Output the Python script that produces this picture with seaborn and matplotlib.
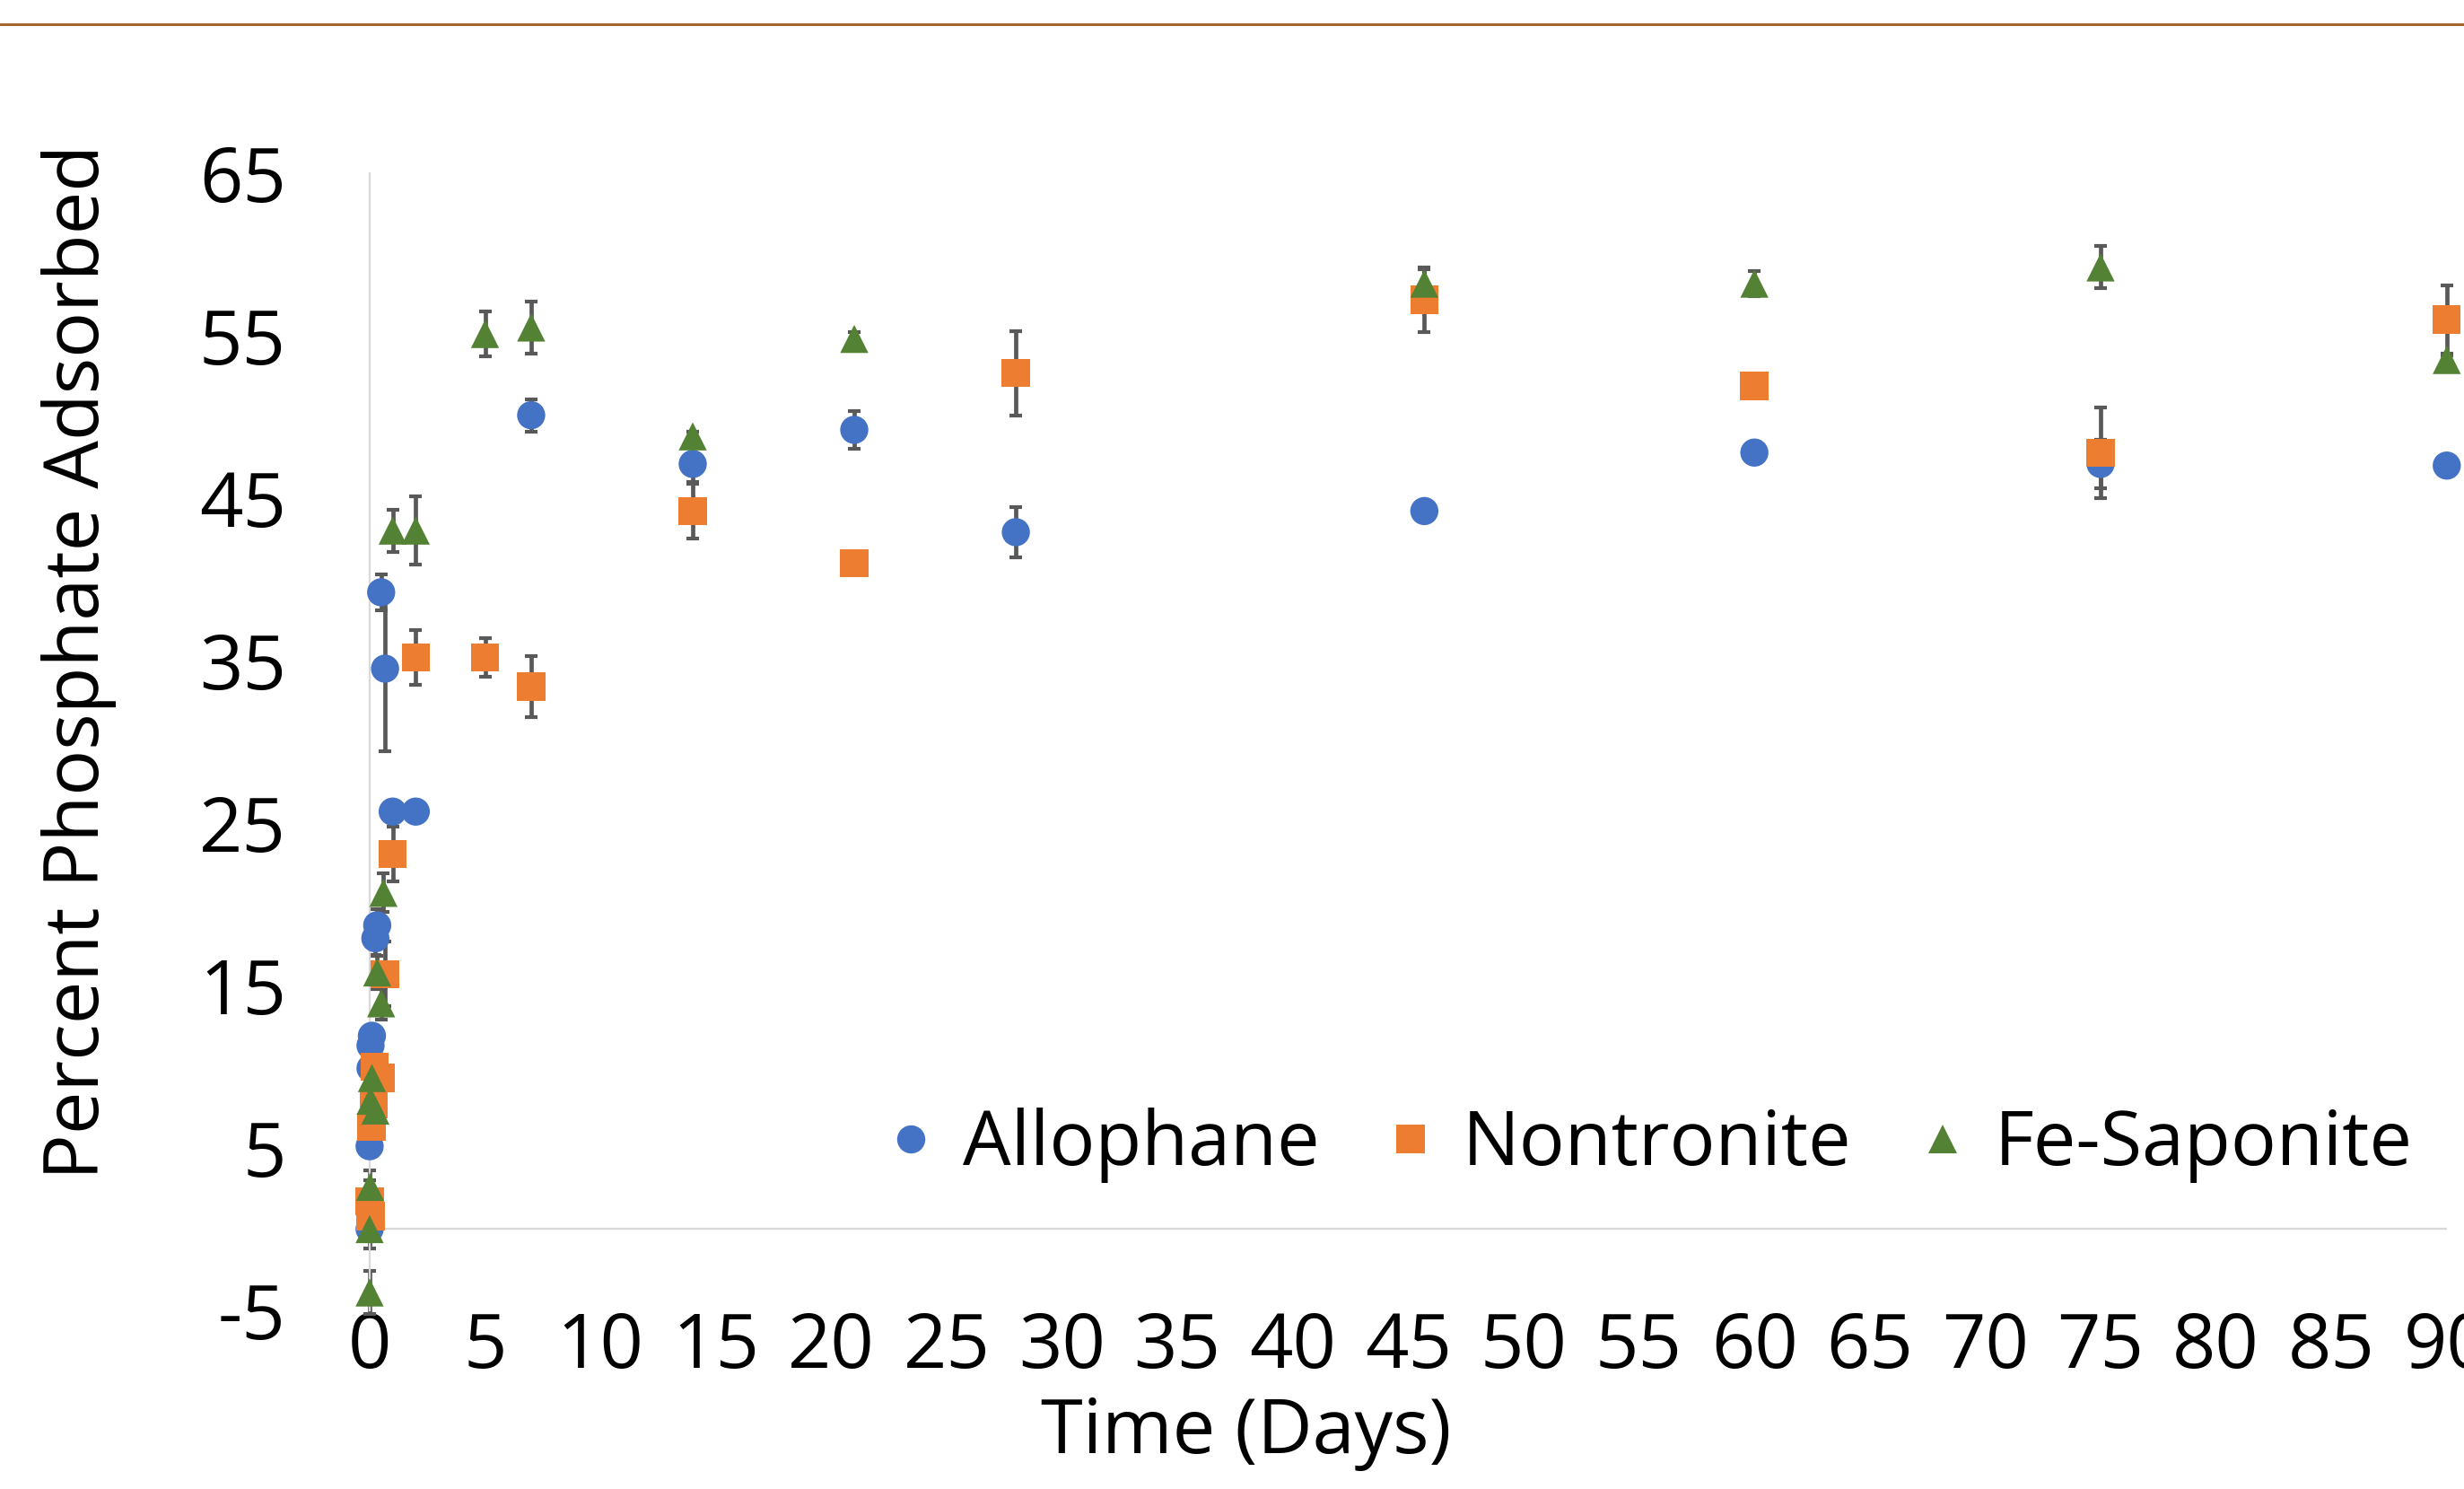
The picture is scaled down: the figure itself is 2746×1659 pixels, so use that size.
import numpy as np
import pandas as pd
import matplotlib
matplotlib.use("Agg")
import matplotlib.pyplot as plt
from matplotlib.lines import Line2D
import seaborn as sns

# values (days, % adsorbed, error)
allo_days = [0, 0, 0.08, 0.04, 0.04, 0.1, 0.25, 0.33, 0.5, 0.67, 1, 2, 7, 14, 21, 28, 45.7, 60, 75, 90]
allo_pct = [0.0, 5.1, 6.8, 9.9, 11.3, 11.9, 17.9, 18.7, 39.2, 34.5, 25.7, 25.7, 50.1, 47.1, 49.2, 42.9, 44.2, 47.8, 47.1, 47.0]
allo_err = [0, 0.5, 0.5, 0.8, 0.8, 0.6, 1.0, 1.0, 1.1, 5.1, 0, 0.4, 1.0, 1.1, 1.15, 1.55, 0, 0, 1.5, 0]

nont_days = [0, 0.04, 0.08, 0.17, 0.22, 0.5, 0.67, 1, 2, 5, 7, 14, 21, 28, 45.7, 60, 75, 90]
nont_pct = [1.7, 0.8, 6.3, 7.7, 10.0, 9.3, 15.7, 23.1, 35.2, 35.2, 33.4, 44.2, 41.0, 52.7, 57.2, 51.9, 47.8, 56.0]
nont_err = [1.3, 1.3, 0.6, 0.6, 0.5, 0.5, 2.0, 1.7, 1.7, 1.2, 1.9, 1.7, 0.3, 2.6, 2.0, 0.3, 2.8, 2.1]

fesap_days = [0, 0, 0.02, 0.04, 0.1, 0.25, 0.33, 0.5, 0.6, 1, 2, 5, 7, 14, 21, 45.7, 60, 75, 90]
fesap_pct = [-3.9, 0.0, 2.6, 7.9, 9.3, 7.3, 15.8, 13.9, 20.7, 43.0, 43.0, 55.1, 55.5, 48.8, 54.8, 58.2, 58.2, 59.2, 53.5]
fesap_err = [1.3, 1.2, 1.0, 0.6, 0.6, 0.6, 1.0, 1.0, 1.2, 1.3, 2.1, 1.4, 1.6, 0.3, 0.4, 0.9, 0.8, 1.3, 0.3]

minerals = ["Allophane", "Nontronite", "Fe-Saponite"]
colors = {"Allophane": "#4472C4", "Nontronite": "#ED7D31", "Fe-Saponite": "#548235"}
markers = {"Allophane": "o", "Nontronite": "s", "Fe-Saponite": "^"}

series = {
    "Allophane": (allo_days, allo_pct, allo_err),
    "Nontronite": (nont_days, nont_pct, nont_err),
    "Fe-Saponite": (fesap_days, fesap_pct, fesap_err),
}
df = pd.concat(
    [pd.DataFrame({"days": d, "pct": p, "err": e, "mineral": m}) for m, (d, p, e) in series.items()],
    ignore_index=True,
)

sns.set_style("white")
plt.rcParams["font.family"] = ["Open Sans", "DejaVu Sans"]
plt.rcParams["axes.unicode_minus"] = False
plt.rcParams["text.color"] = "black"
plt.rcParams["xtick.color"] = "black"
plt.rcParams["ytick.color"] = "black"
FS = 61

fig = plt.figure(figsize=(27.46, 16.59), dpi=100)
ax = fig.add_axes([0.150, 0.120, 0.843, 0.7637])

for m in minerals:
    sub = df[df["mineral"] == m]
    ax.errorbar(sub["days"], sub["pct"], yerr=sub["err"], fmt="none",
                ecolor="#595959", elinewidth=3.4, capsize=4.8, capthick=3.0,
                zorder=2, clip_on=False)

sns.scatterplot(data=df, x="days", y="pct", hue="mineral", style="mineral",
                hue_order=minerals, style_order=minerals, palette=colors,
                markers=markers, s=510, linewidth=0, ax=ax, zorder=3, clip_on=False)

ax.set_xlim(0, 90)
ax.set_ylim(-5, 65)
ax.set_xticks(np.arange(0, 91, 5))
ax.set_yticks(np.arange(-5, 66, 10))
ax.tick_params(axis="both", length=0, labelsize=FS, labelcolor="black")
ax.tick_params(axis="x", pad=0)
ax.tick_params(axis="y", pad=67)
for s in ["top", "right", "bottom"]:
    ax.spines[s].set_visible(False)
ax.spines["left"].set_color("#D9D9D9")
ax.spines["left"].set_linewidth(1.6)
ax.axhline(0, color="#D9D9D9", lw=1.6, zorder=1)
ax.set_xlabel("")
ax.set_ylabel("")

fig.text(88 / 2746, 1 - 737 / 1659, "Percent Phosphate Adsorbed", rotation=90,
         ha="center", va="center", fontsize=FS, color="black")
fig.text(1389 / 2746, 1 - 1597 / 1659, "Time (Days)", ha="center", va="center",
         fontsize=FS, color="black")

handles, labels = ax.get_legend_handles_labels()
leg = ax.legend(handles, labels, ncol=3, loc="center", bbox_to_anchor=(0.613, 0.145),
                frameon=False, fontsize=FS, handletextpad=0.18, columnspacing=0.7,
                handlelength=1.0, markerscale=1.0)
for t in leg.get_texts():
    t.set_color("black")

fig.add_artist(Line2D([0, 1], [1 - 27 / 1659] * 2, transform=fig.transFigure,
                      color="#A5672F", lw=2.2))

fig.savefig("out.png", dpi=100)
